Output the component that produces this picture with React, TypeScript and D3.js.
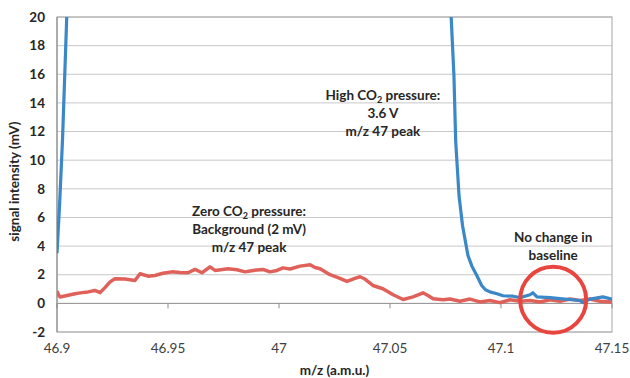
import React, { useEffect, useRef } from 'react';
import * as d3 from 'd3';

interface Point {
  mz: number;
  v: number;
}

// High CO2 pressure trace (blue), left flank and right flank of the peak
const highLeftMz = [46.9, 46.9012, 46.9025, 46.9045];
const highLeftV = [3.5, 7, 11.5, 20.5];
const highRightMz = [
  47.0774, 47.0788, 47.0796, 47.0811, 47.0827, 47.0851, 47.0869, 47.0891, 47.0913, 47.093,
  47.095, 47.0982, 47.1009, 47.1054, 47.1086, 47.1131, 47.1144, 47.1162, 47.1221, 47.1288,
  47.1356, 47.1369, 47.1401, 47.1459, 47.15,
];
const highRightV = [
  20.5, 15.9, 11.3, 7.5, 5.4, 3.35, 2.6, 1.95, 1.25, 0.95,
  0.8, 0.67, 0.53, 0.5, 0.4, 0.6, 0.74, 0.45, 0.4, 0.3,
  0.2, 0.05, 0.3, 0.45, 0.3,
];

// Zero CO2 pressure trace (red)
const zeroMz = [
  46.9, 46.9007, 46.9014, 46.9045, 46.9081, 46.9113, 46.914, 46.9171, 46.9194, 46.9216,
  46.9239, 46.9261, 46.9306, 46.9351, 46.9374, 46.941, 46.9441, 46.9477, 46.9518, 46.9554,
  46.959, 46.9622, 46.9653, 46.9689, 46.9712, 46.977, 46.9811, 46.9847, 46.9883, 46.9928,
  46.9959, 46.9991, 47.0018, 47.005, 47.0095, 47.014, 47.0162, 47.0185, 47.023, 47.0266,
  47.0306, 47.0342, 47.0365, 47.0387, 47.0423, 47.0468, 47.0514, 47.0559, 47.0604, 47.0649,
  47.0671, 47.0694, 47.0739, 47.077, 47.0815, 47.086, 47.0905, 47.095, 47.0995, 47.1041,
  47.1086, 47.1131, 47.1176, 47.1221, 47.1266, 47.1311, 47.1356, 47.1401, 47.1446, 47.15,
];
const zeroV = [
  0.85, 0.6, 0.45, 0.55, 0.67, 0.75, 0.8, 0.9, 0.75, 1.1,
  1.5, 1.72, 1.7, 1.6, 2.07, 1.9, 1.95, 2.1, 2.2, 2.15,
  2.14, 2.37, 2.14, 2.55, 2.3, 2.42, 2.35, 2.2, 2.3, 2.37,
  2.2, 2.3, 2.48, 2.4, 2.6, 2.7, 2.5, 2.42, 2.0, 1.8,
  1.53, 1.75, 1.86, 1.7, 1.25, 1.02, 0.6, 0.27, 0.45, 0.74,
  0.55, 0.32, 0.25, 0.3, 0.15, 0.3, 0.1, 0.2, 0.05, 0.25,
  0.15, 0.2, 0.1, 0.25, 0.15, 0.3, 0.2, 0.3, 0.15, 0.1,
];

const xTicks = [46.9, 46.95, 47, 47.05, 47.1, 47.15];
const xTickLabels = ['46.9', '46.95', '47', '47.05', '47.1', '47.15'];
const yTicks = [-2, 0, 2, 4, 6, 8, 10, 12, 14, 16, 18, 20];

const zip = (xs: number[], vs: number[]): Point[] => xs.map((mz, i) => ({ mz, v: vs[i] }));

const App: React.FC = () => {
  const svgRef = useRef<SVGSVGElement>(null);

  useEffect(() => {
    if (!svgRef.current) return;
    d3.select(svgRef.current).selectAll('*').remove();

    const W = 630;
    const H = 378;
    const margin = { top: 17, right: 18, bottom: 46, left: 57 };
    const width = W - margin.left - margin.right;
    const height = H - margin.top - margin.bottom;
    const font = 'Lato, "Open Sans", sans-serif';

    const svg = d3
      .select(svgRef.current)
      .attr('width', W)
      .attr('height', H)
      .style('font-family', font);

    svg.append('rect').attr('width', W).attr('height', H).attr('fill', '#fff');

    const g = svg.append('g').attr('transform', `translate(${margin.left},${margin.top})`);

    const x = d3.scaleLinear().domain([46.9, 47.15]).range([0, width]);
    const y = d3.scaleLinear().domain([-2, 20]).range([height, 0]);

    // gridlines
    g.append('g')
      .selectAll('line')
      .data(yTicks)
      .join('line')
      .attr('x1', 0)
      .attr('x2', width)
      .attr('y1', d => y(d))
      .attr('y2', d => y(d))
      .attr('stroke', d => (d === 0 ? '#8c8c8c' : '#c8c8c8'))
      .attr('stroke-width', 1);

    // frame
    g.append('rect')
      .attr('width', width)
      .attr('height', height)
      .attr('fill', 'none')
      .attr('stroke', '#a6a6a6');
    g.append('line')
      .attr('x1', 0)
      .attr('x2', 0)
      .attr('y1', 0)
      .attr('y2', height)
      .attr('stroke', '#868686');

    // x tick marks on the zero line
    g.append('g')
      .selectAll('line')
      .data(xTicks)
      .join('line')
      .attr('x1', d => x(d))
      .attr('x2', d => x(d))
      .attr('y1', y(0))
      .attr('y2', y(0) + 5)
      .attr('stroke', '#8c8c8c');

    // y tick labels
    g.append('g')
      .selectAll('text')
      .data(yTicks)
      .join('text')
      .attr('x', -12)
      .attr('y', d => y(d))
      .attr('dy', '0.35em')
      .attr('text-anchor', 'end')
      .attr('font-size', 13.5)
      .attr('font-weight', 700)
      .attr('fill', '#262626')
      .text(d => d);

    // x tick labels
    g.append('g')
      .selectAll('text')
      .data(xTicks)
      .join('text')
      .attr('x', d => x(d))
      .attr('y', height + 21)
      .attr('text-anchor', 'middle')
      .attr('font-size', 13.5)
      .attr('fill', '#404040')
      .text((d, i) => xTickLabels[i]);

    // axis titles
    svg
      .append('text')
      .attr('x', margin.left + width / 2)
      .attr('y', H - 3)
      .attr('text-anchor', 'middle')
      .attr('font-size', 13.5)
      .attr('font-weight', 700)
      .attr('fill', '#262626')
      .text('m/z (a.m.u.)');
    svg
      .append('text')
      .attr('transform', `translate(19,${margin.top + y(8.5)}) rotate(-90)`)
      .attr('text-anchor', 'middle')
      .attr('font-size', 13.5)
      .attr('font-weight', 700)
      .attr('fill', '#262626')
      .text('signal intensity (mV)');

    // clip for traces
    svg
      .append('clipPath')
      .attr('id', 'plot-clip')
      .append('rect')
      .attr('width', width)
      .attr('height', height);

    const line = d3
      .line<Point>()
      .x(d => x(d.mz))
      .y(d => y(d.v));

    const traces = g.append('g').attr('clip-path', 'url(#plot-clip)');

    traces
      .append('path')
      .datum(zip(zeroMz, zeroV))
      .attr('fill', 'none')
      .attr('stroke', '#e0605a')
      .attr('stroke-width', 3.5)
      .attr('stroke-linejoin', 'round')
      .attr('d', line);

    [zip(highLeftMz, highLeftV), zip(highRightMz, highRightV)].forEach(seg => {
      traces
        .append('path')
        .datum(seg)
        .attr('fill', 'none')
        .attr('stroke', '#3a88c8')
        .attr('stroke-width', 3.2)
        .attr('stroke-linejoin', 'round')
        .attr('d', line);
    });

    // annotations
    const note = (cx: number, cy: number, lines: (string | [string, string, string])[]) => {
      lines.forEach((ln, i) => {
        const t = g
          .append('text')
          .attr('x', x(cx))
          .attr('y', y(cy) + i * 18)
          .attr('text-anchor', 'middle')
          .attr('font-size', 13.5)
          .attr('font-weight', 700)
          .attr('fill', '#262626');
        if (typeof ln === 'string') {
          t.text(ln);
        } else {
          t.append('tspan').text(ln[0]);
          t.append('tspan').attr('font-size', 9).attr('dy', 3).text(ln[1]);
          t.append('tspan').attr('dy', -3).text(ln[2]);
        }
      });
    };

    note(47.0468, 14.2, [['High CO', '2', ' pressure:'], '3.6 V', 'm/z 47 peak']);
    note(46.9865, 6.1, [['Zero CO', '2', ' pressure:'], 'Background  (2 mV)', 'm/z 47 peak']);
    note(47.1235, 4.3, ['No change in', 'baseline']);

    // highlight ring
    g.append('circle')
      .attr('cx', x(47.1235))
      .attr('cy', y(0.25))
      .attr('r', 33)
      .attr('fill', 'none')
      .attr('stroke', '#e8453f')
      .attr('stroke-width', 4);
  }, []);

  return (
    <svg
      ref={svgRef}
      style={{ position: 'absolute', left: 0, top: 0, display: 'block' }}
    ></svg>
  );
};

export default App;
